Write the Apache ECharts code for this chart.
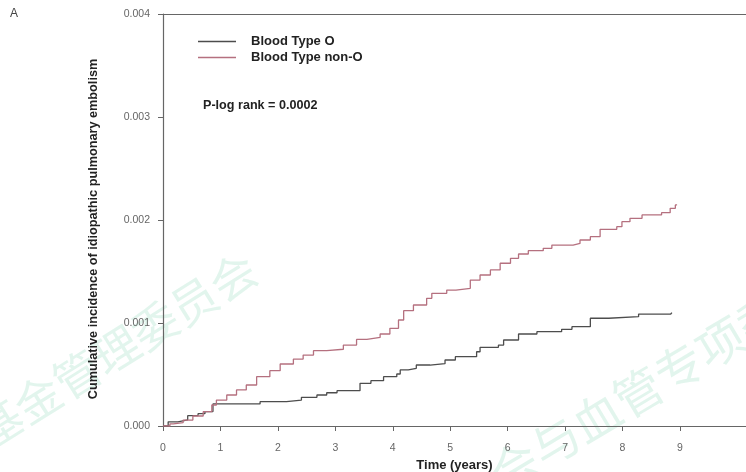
<!DOCTYPE html>
<html>
<head>
<meta charset="utf-8">
<script src="https://cdn.jsdelivr.net/npm/echarts@6/dist/echarts.min.js"></script>
<style>
  html, body { margin: 0; padding: 0; background: #fff; }
  #main { width: 746px; height: 472px; }
</style>
</head>
<body>
<div id="main"></div>
<script>
// Blood Type O (time in years, cumulative incidence)
var timeO = [0, 0.09, 0.26, 0.43, 0.61, 0.73, 0.87, 1.69, 2.15, 2.41, 2.68, 2.85, 3.03, 3.43, 3.62, 3.84, 4.07, 4.13, 4.27, 4.41, 4.65, 4.91, 5.09, 5.46, 5.52, 5.84, 5.93, 6.19, 6.51, 6.94, 7.12, 7.44, 7.76, 8.28, 8.84, 8.86]
var incO = [0, 0.000041, 0.00006, 0.0001, 0.00012, 0.00014, 0.000214, 0.000236, 0.000252, 0.000278, 0.000301, 0.000323, 0.000343, 0.000414, 0.00044, 0.000479, 0.000505, 0.000544, 0.00056, 0.000592, 0.000605, 0.000641, 0.000673, 0.000721, 0.000764, 0.000786, 0.000835, 0.000893, 0.000916, 0.000939, 0.000964, 0.001046, 0.001061, 0.001087, 0.0011, 0.0011]

// Blood Type non-O
var timeNonO = [0, 0.12, 0.18, 0.35, 0.52, 0.7, 0.85, 0.93, 1.11, 1.28, 1.45, 1.63, 1.86, 2.04, 2.27, 2.44, 2.62, 2.85, 3.14, 3.37, 3.55, 3.78, 3.95, 4.1, 4.19, 4.36, 4.59, 4.68, 4.94, 5.1, 5.35, 5.52, 5.7, 5.87, 6.05, 6.19, 6.36, 6.62, 6.77, 7.14, 7.26, 7.44, 7.61, 7.9, 7.99, 8.13, 8.34, 8.68, 8.83, 8.92, 8.95]
var incNonO = [0, 0.00002, 0.000032, 0.000058, 0.000097, 0.000139, 0.000204, 0.000252, 0.000301, 0.00035, 0.000398, 0.000479, 0.000537, 0.000602, 0.00065, 0.000689, 0.000731, 0.000745, 0.000786, 0.000841, 0.00086, 0.000893, 0.000948, 0.001029, 0.00112, 0.001175, 0.00124, 0.001288, 0.00132, 0.001337, 0.001417, 0.001466, 0.001515, 0.00158, 0.001628, 0.00167, 0.001702, 0.001725, 0.001757, 0.001773, 0.001806, 0.001838, 0.001909, 0.001935, 0.001984, 0.002016, 0.002049, 0.002071, 0.002113, 0.002146, 0.002146]

var xTicks = [0, 1, 2, 3, 4, 5, 6, 7, 8, 9]
var seriesNames = ['Blood Type O', 'Blood Type non-O']

function zip(xs, ys) {
  return xs.map(function (x, i) { return [x, ys[i]] })
}

var myChart = echarts.init(document.getElementById('main'))
var option = {
  backgroundColor: '#fff',
  animation: false,
  color: ['#4d4d4d', '#b5707f'],
  legend: {
    orient: 'vertical',
    left: 198,
    top: 35,
    padding: 0,
    icon: 'rect',
    itemWidth: 38,
    itemHeight: 1.4,
    itemGap: 3,
    textStyle: {
      fontFamily: 'Liberation Sans',
      fontSize: 13,
      fontWeight: 'bold',
      color: '#222',
      padding: [0, 0, 0, 10]
    },
    data: seriesNames
  },
  grid: {
    top: 14,
    left: 163,
    right: 0,
    bottom: 46,
    outerBoundsMode: 'none'
  },
  xAxis: [
    {
      type: 'value',
      min: 0,
      max: 10.15,
      interval: 1,
      offset: 5,
      name: 'Time (years)',
      nameLocation: 'middle',
      nameGap: 28,
      nameTextStyle: {
        fontFamily: 'Liberation Sans',
        fontSize: 13,
        fontWeight: 'bold',
        color: '#222'
      },
      splitLine: { show: false },
      axisLine: { show: true, lineStyle: { color: '#666', width: 1.2 } },
      axisTick: { show: true, length: 5, lineStyle: { color: '#666' }, customValues: xTicks },
      axisLabel: {
        customValues: xTicks,
        margin: 12,
        fontFamily: 'Liberation Sans',
        fontSize: 10.5,
        color: '#666'
      }
    },
    {
      type: 'value',
      position: 'top',
      min: 0,
      max: 10.15,
      splitLine: { show: false },
      axisLine: { show: true, lineStyle: { color: '#666', width: 1.2 } },
      axisTick: { show: false },
      axisLabel: { show: false }
    }
  ],
  yAxis: {
    type: 'value',
    min: 0,
    max: 0.004,
    interval: 0.001,
    offset: 3,
    name: 'Cumulative incidence of idiopathic pulmonary embolism',
    nameLocation: 'middle',
    nameGap: 60,
    nameTextStyle: {
      fontFamily: 'Liberation Sans',
      fontSize: 12.7,
      fontWeight: 'bold',
      color: '#222',
      padding: [0, 18, 0, 0]
    },
    splitLine: { show: false },
    axisLine: { show: true, lineStyle: { color: '#666', width: 1.2 } },
    axisTick: { show: true, length: 5, lineStyle: { color: '#666' } },
    axisLabel: {
      margin: 10,
      fontFamily: 'Liberation Sans',
      fontSize: 10.5,
      color: '#666',
      formatter: function (v) { return v.toFixed(3) }
    }
  },
  graphic: [
    {
      type: 'text', x: 10, y: 8,
      style: { text: 'A', fontFamily: 'Liberation Sans', fontSize: 12, fill: '#444' }
    },
    {
      type: 'text', x: 203, y: 99,
      style: { text: 'P-log rank = 0.0002', fontFamily: 'Liberation Sans', fontSize: 12.6, fontWeight: 'bold', fill: '#222' }
    },
    {
      type: 'text', x: 116, y: 350, rotation: 0.56, z: -1,
      style: { text: '基金管理委员会', fontFamily: 'Noto Sans CJK SC', fontSize: 46, fill: 'rgba(110,205,165,0.2)', textAlign: 'center', textVerticalAlign: 'middle' }
    },
    {
      type: 'text', x: 638, y: 392, rotation: 0.54, z: -1,
      style: { text: '会与血管专项委', fontFamily: 'Noto Sans CJK SC', fontSize: 48, fill: 'rgba(110,205,165,0.2)', textAlign: 'center', textVerticalAlign: 'middle' }
    }
  ],
  series: [
    {
      name: seriesNames[0],
      type: 'line',
      step: 'end',
      showSymbol: false,
      symbol: 'none',
      lineStyle: { width: 1.3 },
      data: zip(timeO, incO)
    },
    {
      name: seriesNames[1],
      type: 'line',
      step: 'end',
      showSymbol: false,
      symbol: 'none',
      lineStyle: { width: 1.3 },
      data: zip(timeNonO, incNonO)
    }
  ]
}
option && myChart.setOption(option)
</script>
</body>
</html>
